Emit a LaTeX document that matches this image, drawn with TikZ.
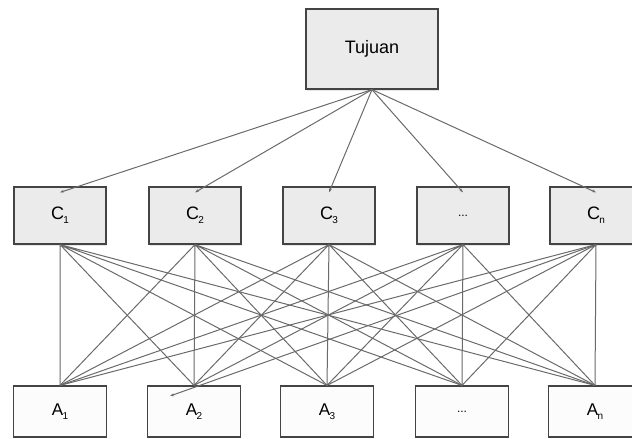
\documentclass[tikz,border=0pt]{standalone}
\usepackage{fontspec}
\setmainfont{Liberation Sans}
\usetikzlibrary{arrows.meta,shadows}
\newcommand{\idx}[1]{\kern-0.3pt\raisebox{-0.4ex}{\fontsize{5}{5}\selectfont #1}}
\definecolor{boxline}{HTML}{444444}
\definecolor{boxfill}{HTML}{EBEBEB}
\definecolor{altfill}{HTML}{FCFCFC}
\definecolor{edge}{HTML}{6A6A6A}

\begin{document}
\begin{tikzpicture}[x=0.5pt,y=-0.5pt]
\tikzstyle{every node}=[draw=boxline,line width=0.6pt,shape=rectangle,font=\fontsize{9}{10}\selectfont];
\tikzstyle{goal}=[fill=boxfill,minimum width=66pt,minimum height=40pt,drop shadow={opacity=0.2,shadow xshift=0.6pt,shadow yshift=-1pt}];
\tikzstyle{crit}=[fill=boxfill,minimum width=46pt,minimum height=28.5pt,drop shadow={opacity=0.2,shadow xshift=0.6pt,shadow yshift=-1pt}];
\tikzstyle{alt}=[fill=altfill,minimum width=46.5pt,minimum height=25.5pt,font=\fontsize{8.5}{10}\selectfont];
\tikzstyle{link}=[draw=edge,line width=0.5pt];
\tikzstyle{tip}=[-{Stealth[length=2pt,width=1.4pt]}];
\useasboundingbox (0,0) rectangle (632,439);

% goal
\node[goal] (tujuan) at (372,49) {Tujuan};

% criteria
\node[crit] (c1) at (60,215.5) {C\idx{1}};
\node[crit] (c2) at (195,215.5) {C\idx{2}};
\node[crit] (c3) at (329,215.5) {C\idx{3}};
\node[crit] (cx) at (463,215.5) {\fontsize{6}{6}\selectfont ...};
\node[crit] (cn) at (596,215.5) {C\idx{n}};

% alternatives
\node[alt] (a1) at (60,411.5) {A\idx{1}};
\node[alt] (a2) at (194,411.5) {A\idx{2}};
\node[alt] (a3) at (327,411.5) {A\idx{3}};
\node[alt] (ax) at (462,411.5) {\fontsize{6}{6}\selectfont ...};
\node[alt] (an) at (595,411.5) {A\idx{n}};
\coordinate (stray) at (170,396);

% goal to criteria
\draw[link,tip] (tujuan.south) -- ([yshift=-3pt]c1.north);
\draw[link,tip] (tujuan.south) -- ([yshift=-3pt]c2.north);
\draw[link,tip] (tujuan.south) -- ([yshift=-3pt]c3.north);
\draw[link,tip] (tujuan.south) -- ([yshift=-3pt]cx.north);
\draw[link,tip] (tujuan.south) -- ([yshift=-3pt]cn.north);

% criteria to alternatives
\draw[link] (c1.south) -- (a1.north) (c1.south) -- (a2.north) (c1.south) -- (a3.north)
	(c1.south) -- (ax.north) (c1.south) -- (an.north);
\draw[link] (c2.south) -- (a1.north) (c2.south) -- (a2.north) (c2.south) -- (a3.north)
	(c2.south) -- (ax.north) (c2.south) -- (an.north);
\draw[link] (c3.south) -- (a1.north) (c3.south) -- (a2.north) (c3.south) -- (a3.north)
	(c3.south) -- (ax.north) (c3.south) -- (an.north);
\draw[link] (cx.south) -- (a1.north) (cx.south) -- (a2.north) (cx.south) -- (a3.north)
	(cx.south) -- (ax.north) (cx.south) -- (an.north);
\draw[link] (cn.south) -- (a1.north) (cn.south) -- (a3.north)
	(cn.south) -- (ax.north) (cn.south) -- (an.north);
\draw[link,tip] (cn.south) -- (stray);
\end{tikzpicture}
\end{document}
